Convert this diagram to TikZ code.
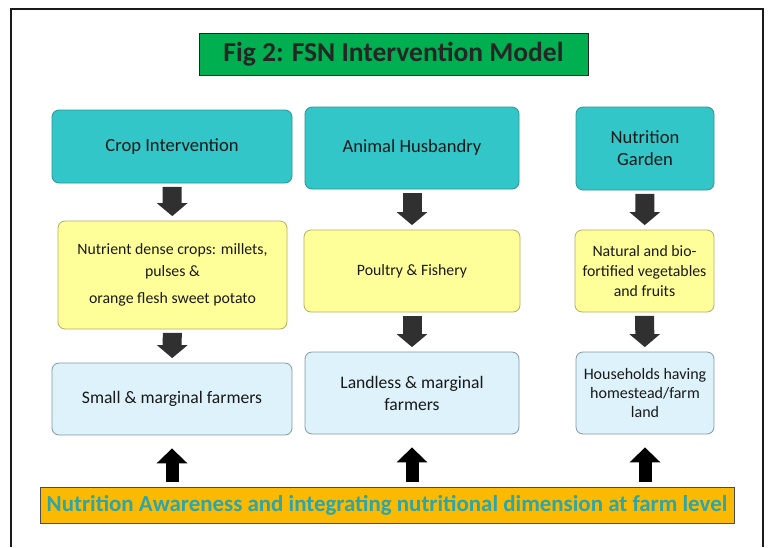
\documentclass[tikz,border=0pt]{standalone}
\usepackage{fontspec}
\setmainfont{Carlito}
\usetikzlibrary{arrows.meta}
\definecolor{frameline}{HTML}{1A1A1A}
\definecolor{titlegreen}{HTML}{00B050}
\definecolor{titletext}{HTML}{262626}
\definecolor{tealfill}{HTML}{33C6C8}
\definecolor{tealline}{HTML}{2A9696}
\definecolor{yellowfill}{HTML}{FFFF99}
\definecolor{yellowline}{HTML}{B3AC66}
\definecolor{bluefill}{HTML}{DDF2FA}
\definecolor{blueline}{HTML}{8199A4}
\definecolor{bannerfill}{HTML}{FBBA00}
\definecolor{bannertext}{HTML}{2CA5AB}
\definecolor{arrowgray}{HTML}{303030}
\tikzset{
  px/.style={x=1pt,y=-1pt},
  basebox/.style={rectangle, rounded corners=7pt, line width=0.8pt, align=center,
    inner sep=0pt, text=black!90},
  headbox/.style={basebox, fill=tealfill, draw=tealline,
    font=\fontsize{18.6}{22}\selectfont},
  cropbox/.style={basebox, fill=yellowfill, draw=yellowline,
    font=\fontsize{15.8}{22}\selectfont},
  farmerbox/.style={basebox, fill=bluefill, draw=blueline,
    font=\fontsize{17.6}{22}\selectfont},
  downarrow/.style={draw=arrowgray, line width=19pt,
    -{Triangle[width=30pt,length=13pt]}, color=arrowgray,
    shorten <=3.5pt, shorten >=4.5pt},
  uparrow/.style={draw=black, line width=13pt,
    -{Triangle[width=30pt,length=15pt]},
    shorten <=5pt, shorten >=13pt},
}
\begin{document}
\begin{tikzpicture}[px]
\useasboundingbox (0,0) rectangle (771,547);
\fill[white] (0,0) rectangle (771,547);

% outer frame, open at the bottom edge
\draw[frameline, line width=2.6pt] (11,547) -- (11,9) -- (763,9) -- (763,547);

% title
\node[rectangle, fill=titlegreen, draw=titletext, line width=0.6pt,
  minimum width=389pt, minimum height=42pt, text=titletext,
  font=\fontsize{27.5}{30}\selectfont\bfseries] (title) at (393.5,54)
  {Fig 2: FSN Intervention Model};

% column 1: crops
\node[headbox, minimum width=240pt, minimum height=73pt] (c1) at (172,146.5)
  {Crop Intervention};
\node[cropbox, minimum width=229pt, minimum height=108pt] (y1) at (172.5,275)
  {Nutrient dense crops: millets,\\ pulses \&\\[5pt] orange flesh sweet potato};
\node[farmerbox, minimum width=240pt, minimum height=72pt] (b1) at (172,399)
  {Small \& marginal farmers};

% column 2: animal husbandry
\node[headbox, minimum width=214pt, minimum height=82pt] (c2) at (412,148)
  {Animal Husbandry};
\node[cropbox, minimum width=216pt, minimum height=82pt] (y2) at (412,271)
  {Poultry \& Fishery};
\node[farmerbox, minimum width=214pt, minimum height=82pt] (b2) at (412,393)
  {Landless \& marginal\\ farmers};

% column 3: nutrition garden
\node[headbox, minimum width=138pt, minimum height=83pt] (c3) at (645,148.5)
  {Nutrition\\ Garden};
\node[cropbox, minimum width=139pt, minimum height=82pt,
  font=\fontsize{15.8}{20}\selectfont] (y3) at (644.5,271)
  {Natural and bio-\\ fortified vegetables\\ and fruits};
\node[farmerbox, minimum width=138pt, minimum height=82pt,
  font=\fontsize{16}{19}\selectfont] (b3) at (645,393)
  {Households having\\ homestead/farm\\ land};

% banner
\node[rectangle, fill=bannerfill, draw=black!70, line width=0.8pt,
  minimum width=694pt, minimum height=36pt, text=bannertext,
  font=\fontsize{22.9}{24}\selectfont\bfseries] (banner) at (387,505)
  {Nutrition Awareness and integrating nutritional dimension at farm level};

% downward flow within each column
\draw[downarrow] (c1) -- (y1);
\draw[downarrow] (y1) -- (b1);
\draw[downarrow] (c2) -- (y2);
\draw[downarrow] (y2) -- (b2);
\draw[downarrow] (c3) -- (y3);
\draw[downarrow] (y3) -- (b3);

% awareness feeding each column
\draw[uparrow] (b1.south |- banner.north) -- (b1.south);
\draw[uparrow] (b2.south |- banner.north) -- (b2.south);
\draw[uparrow] (b3.south |- banner.north) -- (b3.south);
\end{tikzpicture}
\end{document}
